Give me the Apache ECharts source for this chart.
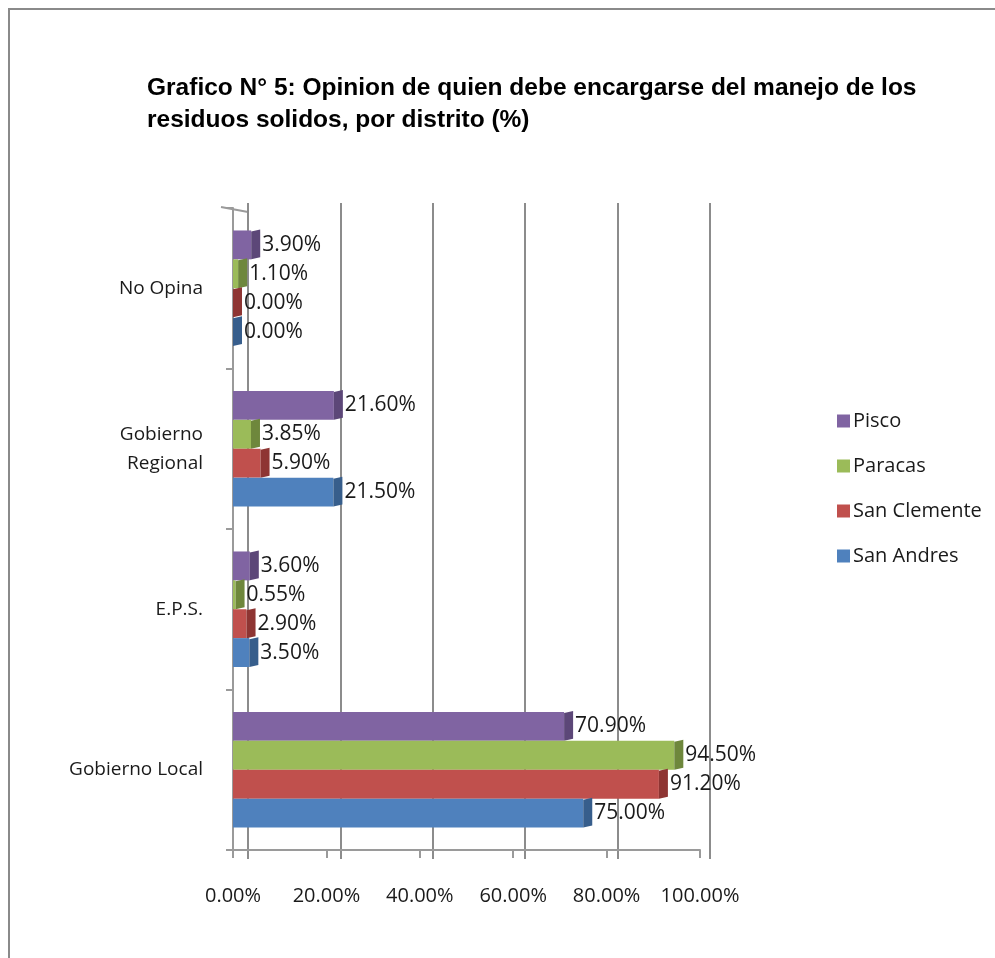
<!DOCTYPE html>
<html>
<head>
<meta charset="utf-8">
<script src="https://cdn.jsdelivr.net/npm/echarts@6/dist/echarts.min.js"></script>
<style>
  html, body { margin: 0; padding: 0; background: #fff; }
  #chart { width: 995px; height: 958px; }
</style>
</head>
<body>
<div id="chart"></div>
<script>
// Categories (top to bottom) and district series, values in percent
const categories = ['No Opina', 'Gobierno\nRegional', 'E.P.S.', 'Gobierno Local'];
const seriesNames = ['Pisco', 'Paracas', 'San Clemente', 'San Andres'];
const pisco       = [3.90, 21.60, 3.60, 70.90];
const paracas     = [1.10, 3.85, 0.55, 94.50];
const sanClemente = [0.00, 5.90, 2.90, 91.20];
const sanAndres   = [0.00, 21.50, 3.50, 75.00];
const xTicks = [0, 20, 40, 60, 80, 100];

const seriesValues = [pisco, paracas, sanClemente, sanAndres];
const faceColors = ['#8064A2', '#9BBB59', '#C0504D', '#4F81BD'];
const sideColors = ['#5C4778', '#6E873C', '#8E3533', '#375E8C'];

const FONT = '"Open Sans", "Noto Sans", sans-serif';
const CAP = 9; // depth of the dark end face of each bar

function makeRender(idx) {
  return function (params, api) {
    const cat = api.value(0);
    const val = api.value(1);
    const start = api.coord([0, cat]);
    const end = api.coord([val, cat]);
    const band = api.size([0, 1])[1];
    const h = band * 0.18;
    const top = start[1] - 2 * h + idx * h;
    const x0 = start[0];
    const x1 = end[0];
    const children = [];
    if (x1 > x0) {
      children.push({
        type: 'rect',
        shape: { x: x0, y: top, width: x1 - x0, height: h },
        style: { fill: faceColors[idx] }
      });
    }
    children.push({
      type: 'polygon',
      shape: { points: [[x1, top + 1], [x1 + CAP, top - 1], [x1 + CAP, top + h - 2], [x1, top + h]] },
      style: { fill: sideColors[idx] }
    });
    children.push({
      type: 'text',
      style: {
        x: x1 + CAP + 2,
        y: top + h / 2,
        text: val.toFixed(2) + '%',
        fill: '#1a1a1a',
        font: '21px ' + FONT,
        verticalAlign: 'middle',
        align: 'left'
      }
    });
    return { type: 'group', children: children };
  };
}

const chart = echarts.init(document.getElementById('chart'), null, { renderer: 'canvas' });

const option = {
  backgroundColor: '#ffffff',
  animation: false,
  title: {
    text: 'Grafico N° 5: Opinion de quien debe encargarse del manejo de los\nresiduos solidos, por distrito (%)',
    left: 142,
    top: 67,
    textStyle: {
      fontFamily: '"Liberation Sans", Arial, sans-serif',
      fontWeight: 'bold',
      fontSize: 24.5,
      lineHeight: 32,
      color: '#000'
    }
  },
  legend: {
    orient: 'vertical',
    left: 832,
    top: 406,
    itemWidth: 13,
    itemHeight: 13,
    itemGap: 25,
    icon: 'rect',
    data: seriesNames,
    textStyle: { fontFamily: FONT, fontSize: 20, color: '#1a1a1a', padding: [0, 0, 0, -2] }
  },
  grid: [
    // back wall (gridlines)
    { left: 248, top: 203, width: 462, height: 656 },
    // front plane (bars and axes)
    { left: 233, top: 208, width: 467, height: 642 }
  ],
  xAxis: [
    {
      gridIndex: 0, type: 'value', min: xTicks[0], max: xTicks[xTicks.length - 1], interval: 20,
      axisLine: { show: false }, axisTick: { show: false }, axisLabel: { show: false },
      splitLine: { show: true, lineStyle: { color: '#8c8c8c', width: 2 } }
    },
    {
      gridIndex: 1, type: 'value', min: xTicks[0], max: xTicks[xTicks.length - 1], interval: 20,
      axisLine: { show: true, lineStyle: { color: '#9a9a9a', width: 2 } },
      axisTick: { show: true, length: 8, lineStyle: { color: '#9a9a9a', width: 2 } },
      splitLine: { show: false },
      axisLabel: {
        margin: 36,
        fontFamily: FONT, fontSize: 20, color: '#1a1a1a',
        formatter: v => v.toFixed(2) + '%'
      }
    }
  ],
  yAxis: [
    {
      gridIndex: 0, type: 'category', data: categories, inverse: true,
      axisLine: { show: false }, axisTick: { show: false }, axisLabel: { show: false },
      splitLine: { show: false }
    },
    {
      gridIndex: 1, type: 'category', data: categories, inverse: true,
      offset: 12,
      axisLine: { show: true, lineStyle: { color: '#9a9a9a', width: 2 } },
      axisTick: { show: true, inside: false, length: 7, lineStyle: { color: '#9a9a9a', width: 2 } },
      axisLabel: {
        margin: 18,
        fontFamily: FONT, fontSize: 19, lineHeight: 29, color: '#1a1a1a',
        align: 'right'
      }
    }
  ],
  series: seriesNames.map((name, i) => ({
    name: name,
    type: 'custom',
    xAxisIndex: 1,
    yAxisIndex: 1,
    itemStyle: { color: faceColors[i] },
    renderItem: makeRender(i),
    encode: { x: 1, y: 0 },
    data: seriesValues[i].map((v, c) => [c, v])
  })),
  graphic: [
    // chart frame
    {
      type: 'rect', z: -1,
      shape: { x: 9, y: 9, width: 1000, height: 1000 },
      style: { fill: 'none', stroke: '#8a8a8a', lineWidth: 2 }
    },
    // top edge of the side wall
    {
      type: 'line',
      shape: { x1: 221, y1: 207, x2: 248, y2: 212 },
      style: { stroke: '#9a9a9a', lineWidth: 2 }
    }
  ]
};

chart.setOption(option);
</script>
</body>
</html>
